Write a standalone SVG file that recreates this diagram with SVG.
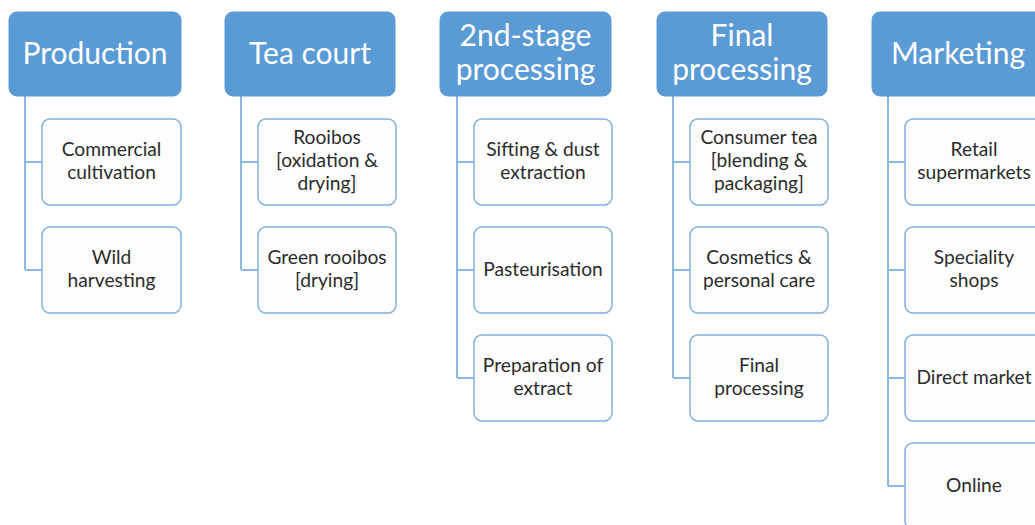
<svg xmlns="http://www.w3.org/2000/svg" width="1035" height="525" viewBox="0 0 1035 525">
<style>
.hd{fill:#5B9BD5;stroke:#5B9BD5;stroke-width:1}
.hdt{fill:#fff;font-family:Lato,"Open Sans",sans-serif;font-size:30px;text-anchor:middle}
.ch{fill:#FDFDFD;stroke:#7FB0DF;stroke-width:1.5}
.cht{fill:#2B2B2B;font-family:Lato,"Open Sans",sans-serif;font-size:19.2px;text-anchor:middle}
.cn{fill:none;stroke:#8DB8E2;stroke-width:2}
</style>
<rect width="1035" height="525" fill="#fff"/>
<g id="connectors">
<path class="cn" d="M25,96V270M25,162H42M25,270H42"/>
<path class="cn" d="M241,96V270M241,162H258M241,270H258"/>
<path class="cn" d="M457,96V378M457,162H474M457,270H474M457,378H474"/>
<path class="cn" d="M673,96V378M673,162H690M673,270H690M673,378H690"/>
<path class="cn" d="M888,96V486M888,162H905M888,270H905M888,378H905M888,486H905"/>
</g>
<g id="production"><rect class="hd" x="9" y="12" width="172" height="84" rx="8"/><text class="hdt" x="95" y="64">Production</text></g>
<g id="teacourt"><rect class="hd" x="225" y="12" width="170" height="84" rx="8"/><text class="hdt" x="310" y="64">Tea court</text></g>
<g id="stage2"><rect class="hd" x="440" y="12" width="171" height="84" rx="8"/><text class="hdt" x="525.500" y="46">2nd-stage</text><text class="hdt" x="525.500" y="80">processing</text></g>
<g id="final"><rect class="hd" x="657" y="12" width="170" height="84" rx="8"/><text class="hdt" x="742" y="46">Final</text><text class="hdt" x="742" y="80">processing</text></g>
<g id="marketing"><rect class="hd" x="872" y="12" width="175" height="84" rx="8"/><text class="hdt" x="958" y="64">Marketing</text></g>

<g id="p1"><rect class="ch" x="42" y="119" width="139" height="86" rx="8"/><text class="cht" x="111.500" y="156">Commercial</text><text class="cht" x="111.500" y="179">cultivation</text></g>
<g id="p2"><rect class="ch" x="42" y="227" width="139" height="86" rx="8"/><text class="cht" x="111.500" y="264">Wild</text><text class="cht" x="111.500" y="287">harvesting</text></g>

<g id="t1"><rect class="ch" x="258" y="119" width="138" height="86" rx="8"/><text class="cht" x="327" y="144">Rooibos</text><text class="cht" x="327" y="167">[oxidation &amp;</text><text class="cht" x="327" y="190">drying]</text></g>
<g id="t2"><rect class="ch" x="258" y="227" width="138" height="86" rx="8"/><text class="cht" x="327" y="264">Green rooibos</text><text class="cht" x="327" y="287">[drying]</text></g>

<g id="s1"><rect class="ch" x="474" y="119" width="138" height="86" rx="8"/><text class="cht" x="543" y="156">Sifting &amp; dust</text><text class="cht" x="543" y="179">extraction</text></g>
<g id="s2"><rect class="ch" x="474" y="227" width="138" height="86" rx="8"/><text class="cht" x="543" y="276">Pasteurisation</text></g>
<g id="s3"><rect class="ch" x="474" y="335" width="138" height="86" rx="8"/><text class="cht" x="543" y="372">Preparation of</text><text class="cht" x="543" y="395">extract</text></g>

<g id="f1"><rect class="ch" x="690" y="119" width="138" height="86" rx="8"/><text class="cht" x="759" y="144">Consumer tea</text><text class="cht" x="759" y="167">[blending &amp;</text><text class="cht" x="759" y="190">packaging]</text></g>
<g id="f2"><rect class="ch" x="690" y="227" width="138" height="86" rx="8"/><text class="cht" x="759" y="264">Cosmetics &amp;</text><text class="cht" x="759" y="287">personal care</text></g>
<g id="f3"><rect class="ch" x="690" y="335" width="138" height="86" rx="8"/><text class="cht" x="759" y="372">Final</text><text class="cht" x="759" y="395">processing</text></g>

<g id="m1"><rect class="ch" x="905" y="119" width="140" height="86" rx="8"/><text class="cht" x="974" y="156">Retail</text><text class="cht" x="974" y="179">supermarkets</text></g>
<g id="m2"><rect class="ch" x="905" y="227" width="140" height="86" rx="8"/><text class="cht" x="974" y="264">Speciality</text><text class="cht" x="974" y="287">shops</text></g>
<g id="m3"><rect class="ch" x="905" y="335" width="140" height="86" rx="8"/><text class="cht" x="974" y="384">Direct market</text></g>
<g id="m4"><rect class="ch" x="905" y="443" width="140" height="86" rx="8"/><text class="cht" x="974" y="492">Online</text></g>
</svg>
